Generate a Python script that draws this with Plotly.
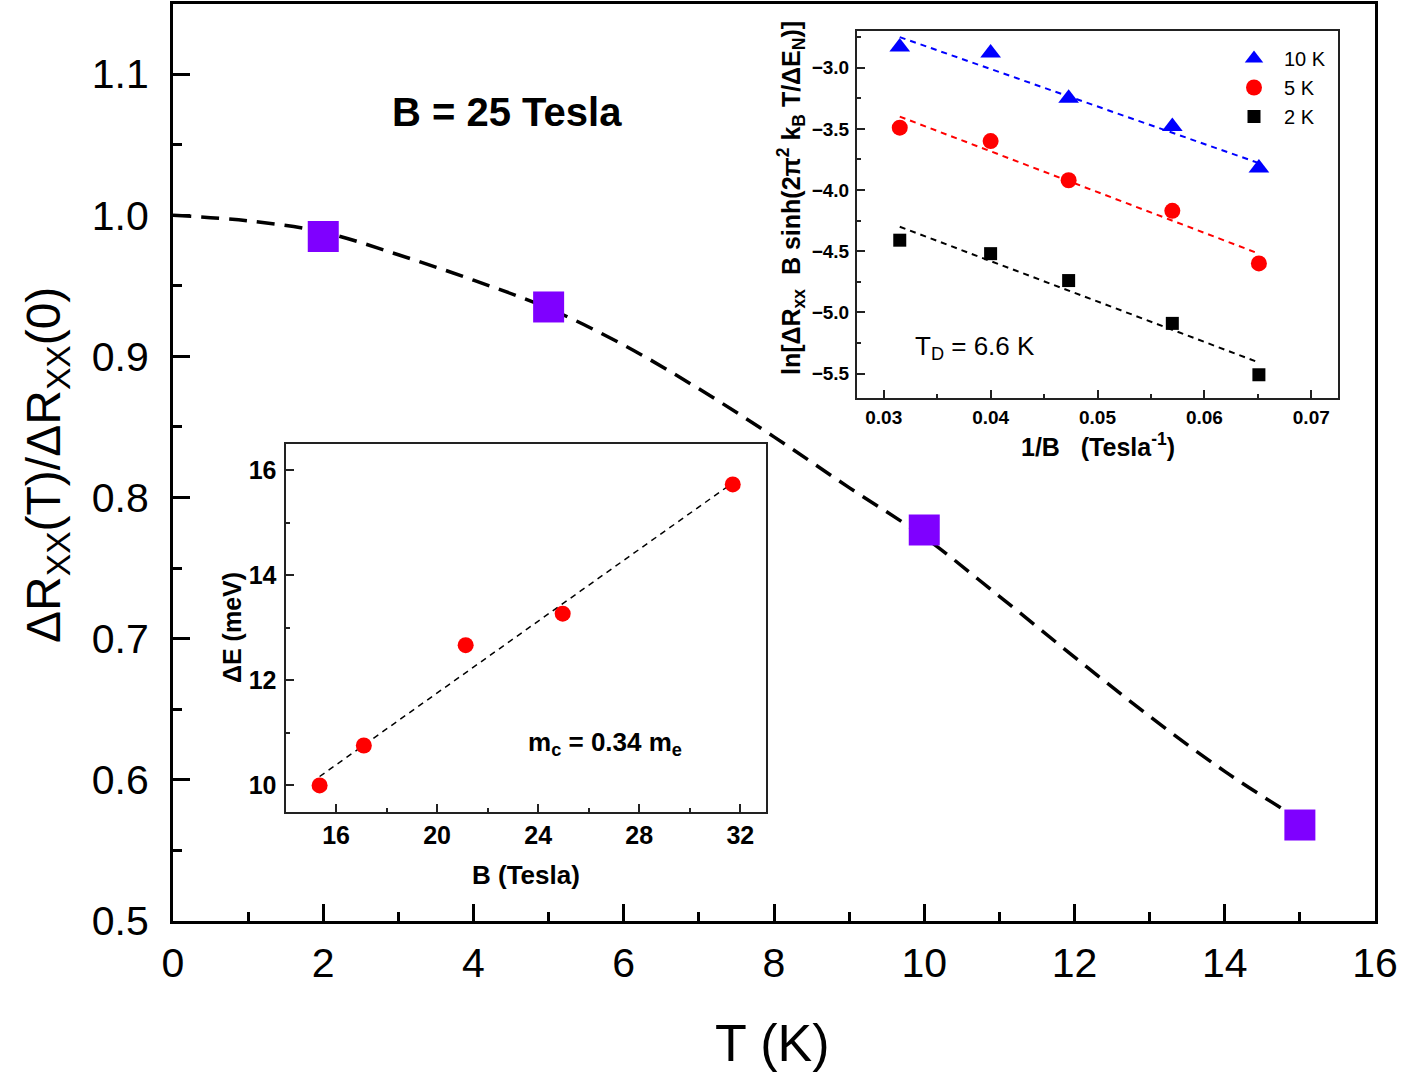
import plotly.graph_objects as go

# ---------------- data ----------------
# main panel: normalized amplitude vs temperature at B = 25 T
T_meas = [2, 5, 10, 15]
R_meas = [0.985, 0.935, 0.777, 0.568]
# LK fit curve
T_fit = [0, 1, 2, 3, 4, 5, 6, 7, 8, 9, 10, 11, 12, 13, 14, 14.9]
R_fit = [1.000, 0.996, 0.988, 0.972, 0.954, 0.934, 0.908, 0.877, 0.843, 0.807, 0.772, 0.730, 0.687, 0.645, 0.606, 0.575]

# top-right inset: Dingle plot
invB = [0.0315, 0.0400, 0.0473, 0.0570, 0.0651]
dingle_10K = [-2.83, -2.88, -3.25, -3.48, -3.82]
dingle_5K = [-3.49, -3.60, -3.92, -4.17, -4.60]
dingle_2K = [-4.41, -4.52, -4.74, -5.09, -5.51]
fit_invB = [0.0315, 0.0651]
fit_10K = [-2.75, -3.78]
fit_5K = [-3.40, -4.52]
fit_2K = [-4.30, -5.41]

# bottom-left inset: energy gap vs field
B_field = [15.35, 17.1, 21.13, 24.97, 31.7]
dE = [10.0, 10.76, 12.67, 13.27, 15.73]
B_fit = [15.35, 31.7]
dE_fit = [10.17, 15.76]

# tick labels
main_x_ticks = [0, 2, 4, 6, 8, 10, 12, 14, 16]
main_y_ticks = [0.5, 0.6, 0.7, 0.8, 0.9, 1.0, 1.1]
ins1_x_ticks = [0.03, 0.04, 0.05, 0.06, 0.07]
ins1_y_ticks = [-5.5, -5.0, -4.5, -4.0, -3.5, -3.0]
ins2_x_ticks = [16, 20, 24, 28, 32]
ins2_y_ticks = [10, 12, 14, 16]

W, H = 1405, 1075
FONT = "Liberation Sans, Arial, Helvetica, sans-serif"
NB = "\u00a0"


def px(x):
    return x / W


def py(y):
    return 1 - y / H


fig = go.Figure()

# main panel
fig.add_trace(go.Scatter(x=T_fit, y=R_fit, mode="lines",
                         line=dict(color="black", width=3.5, dash="18px,10px", shape="spline"),
                         showlegend=False, xaxis="x", yaxis="y"))
fig.add_trace(go.Scatter(x=T_meas, y=R_meas, mode="markers",
                         marker=dict(symbol="square", size=31, color="#7F00FF"),
                         showlegend=False, xaxis="x", yaxis="y"))

# top-right inset
for yv, c in [(fit_10K, "#0000FF"), (fit_5K, "#FF0000"), (fit_2K, "black")]:
    fig.add_trace(go.Scatter(x=fit_invB, y=yv, mode="lines", line=dict(color=c, width=2, dash="6px,5px"),
                             showlegend=False, xaxis="x2", yaxis="y2"))
fig.add_trace(go.Scatter(x=invB, y=dingle_10K, mode="markers", name="10 K",
                         marker=dict(symbol="triangle-up", size=18, color="#0000FF"), xaxis="x2", yaxis="y2"))
fig.add_trace(go.Scatter(x=invB, y=dingle_5K, mode="markers", name="5 K",
                         marker=dict(symbol="circle", size=16, color="#FF0000"), xaxis="x2", yaxis="y2"))
fig.add_trace(go.Scatter(x=invB, y=dingle_2K, mode="markers", name="2 K",
                         marker=dict(symbol="square", size=13, color="black"), xaxis="x2", yaxis="y2"))

# bottom-left inset
fig.add_trace(go.Scatter(x=B_fit, y=dE_fit, mode="lines", line=dict(color="black", width=1.5, dash="6px,5px"),
                         showlegend=False, xaxis="x3", yaxis="y3"))
fig.add_trace(go.Scatter(x=B_field, y=dE, mode="markers", marker=dict(symbol="circle", size=16, color="#FF0000"),
                         showlegend=False, xaxis="x3", yaxis="y3"))

main_ax = dict(showline=True, linecolor="black", linewidth=3, mirror=True, showgrid=False, zeroline=False,
               ticks="inside", tickcolor="black", tickwidth=2.5, ticklen=17, automargin=False,
               tickfont=dict(family=FONT, size=41, color="black"))
ins_ax = dict(showline=True, linecolor="#222222", linewidth=2, mirror=True, showgrid=False, zeroline=False,
              ticks="inside", tickcolor="#222222", tickwidth=1.5, ticklen=8, automargin=False)
ins_minor = dict(ticks="inside", ticklen=4, tickwidth=1.5, tickcolor="#222222")

fig.update_layout(
    width=W, height=H, margin=dict(l=0, r=0, t=0, b=0, autoexpand=False),
    paper_bgcolor="white", plot_bgcolor="rgba(0,0,0,0)",
    xaxis=dict(**main_ax, domain=[px(173), px(1375)], range=[0, 16], tickvals=main_x_ticks,
               minor=dict(dtick=1, tick0=0, ticks="inside", ticklen=9, tickwidth=2.5, tickcolor="black"),
               anchor="y", ticklabelstandoff=4),
    yaxis=dict(**main_ax, domain=[py(921), py(3.5)], range=[0.5, 1.15], tickvals=main_y_ticks, tickformat=".1f",
               minor=dict(dtick=0.05, tick0=0.5, ticks="inside", ticklen=9, tickwidth=2.5, tickcolor="black"),
               anchor="x", ticklabelstandoff=13),
    xaxis2=dict(**ins_ax, domain=[px(857), px(1338)], range=[0.0275, 0.0725], tickvals=ins1_x_ticks, tickformat=".2f",
                minor=dict(dtick=0.005, tick0=0.03, **ins_minor),
                tickfont=dict(family=FONT, size=19, color="black", weight="bold"), anchor="y2", ticklabelstandoff=1),
    yaxis2=dict(**ins_ax, domain=[py(398), py(31)], range=[-5.7, -2.7], tickvals=ins1_y_ticks, tickformat=".1f",
                minor=dict(dtick=0.25, tick0=-5.5, **ins_minor),
                tickfont=dict(family=FONT, size=19, color="black", weight="bold"), anchor="x2", ticklabelstandoff=2),
    xaxis3=dict(**ins_ax, domain=[px(285.5), px(765.6)], range=[14, 33], tickvals=ins2_x_ticks,
                minor=dict(dtick=2, tick0=16, **ins_minor),
                tickfont=dict(family=FONT, size=25, color="black", weight="bold"), anchor="y3", ticklabelstandoff=0),
    yaxis3=dict(**ins_ax, domain=[py(811.7), py(444)], range=[9.5, 16.5], tickvals=ins2_y_ticks,
                minor=dict(dtick=1, tick0=10, **ins_minor),
                tickfont=dict(family=FONT, size=25, color="black", weight="bold"), anchor="x3", ticklabelstandoff=2),
    legend=dict(x=px(1224), y=py(39), xanchor="left", yanchor="top", bgcolor="rgba(0,0,0,0)",
                font=dict(family=FONT, size=20, color="black"), itemwidth=50, tracegroupgap=0),
    font=dict(family=FONT, color="black"),
)

ann = [
    dict(text="T (K)", x=px(772), y=py(1043), font=dict(size=52)),
    dict(text="ΔR<sub>XX</sub>(T)/ΔR<sub>XX</sub>(0)", x=px(47), y=py(465), textangle=-90, font=dict(size=48)),
    dict(text="<b>B = 25 Tesla</b>", x=px(507), y=py(112), font=dict(size=40)),
    dict(text="<b>1/B" + NB * 3 + "(Tesla<sup>-1</sup>)</b>", x=px(1098), y=py(445), font=dict(size=25)),
    dict(text="<b>ln[ΔR<sub>xx</sub>" + NB + " B sinh(2π<sup>2</sup> k<sub>B</sub> T/ΔE<sub>N</sub>)]</b>",
         x=px(791), y=py(198), textangle=-90, font=dict(size=25)),
    dict(text="T<sub>D</sub> = 6.6 K", x=px(975), y=py(348), font=dict(size=26)),
    dict(text="<b>B (Tesla)</b>", x=px(526), y=py(875), font=dict(size=26)),
    dict(text="<b>ΔE (meV)</b>", x=px(232), y=py(628), textangle=-90, font=dict(size=25)),
    dict(text="<b>m<sub>c</sub> = 0.34 m<sub>e</sub></b>", x=px(605), y=py(743), font=dict(size=26)),
]
for a in ann:
    a.update(xref="paper", yref="paper", showarrow=False, xanchor="center", yanchor="middle")
    a["font"] = dict(family=FONT, color="black", **a["font"])
    fig.add_annotation(**a)

fig.write_html("out.html")
